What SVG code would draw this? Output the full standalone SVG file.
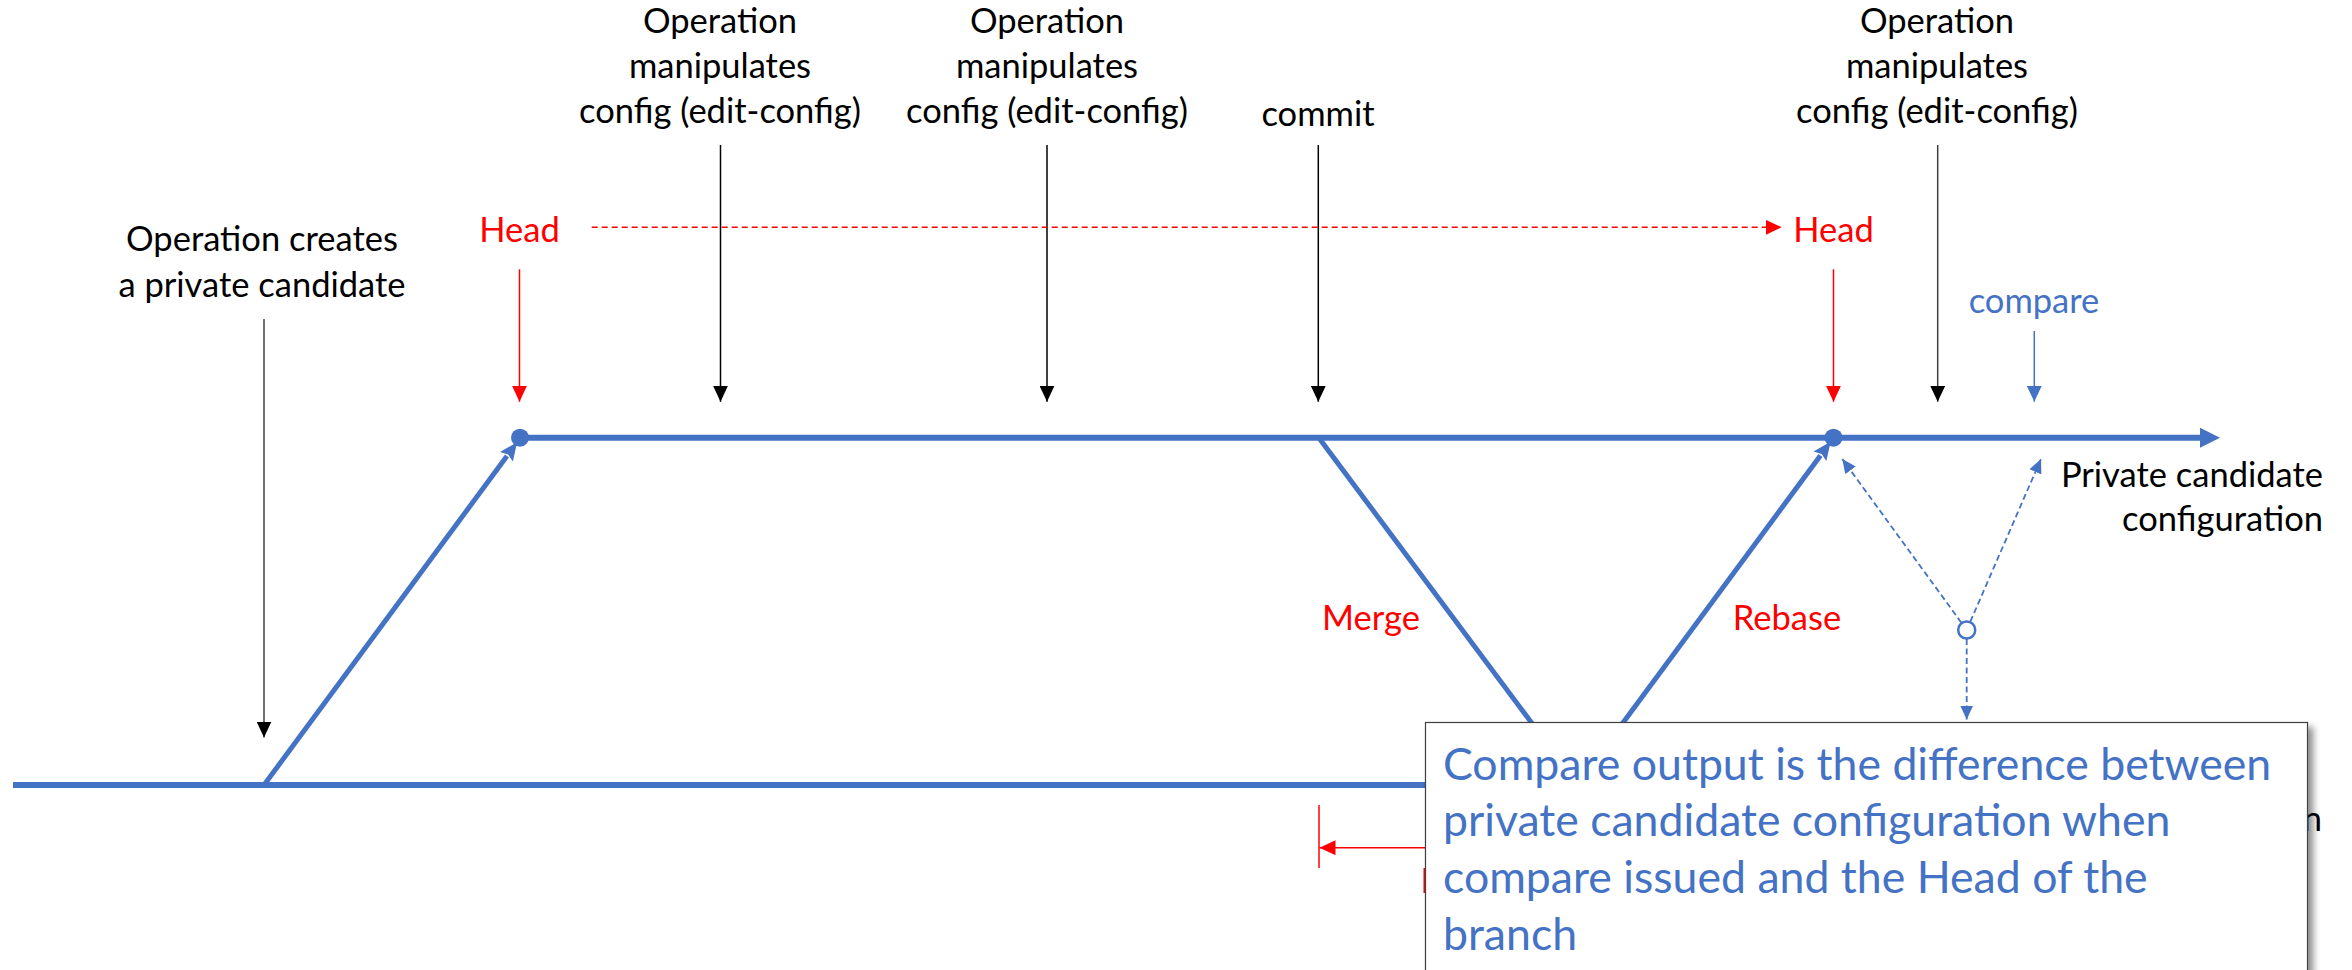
<svg xmlns="http://www.w3.org/2000/svg" width="2352" height="970" viewBox="0 0 2352 970">
  <style>
    text { font-family: Lato, "Liberation Sans", sans-serif; }
    .lbl { font-size: 34.5px; fill: #000; text-anchor: middle; }
    .end { text-anchor: end; }
    .red { fill: #FF0000; }
    .blue { fill: #4472C4; }
    .branch { stroke: #4472C4; stroke-width: 6; fill: none; }
    .diag { stroke: #4472C4; stroke-width: 5; fill: none; }
    .pointer { stroke: #000; stroke-width: 1.5; fill: none; }
    .pointer-grey { stroke: #404040; stroke-width: 1.5; fill: none; }
    .pointer-red { stroke: #FF0000; stroke-width: 1.5; fill: none; }
    .pointer-blue { stroke: #4472C4; stroke-width: 1.5; fill: none; }
    .dash-red { stroke: #FF0000; stroke-width: 1.5; stroke-dasharray: 6 4; fill: none; }
    .dash-blue { stroke: #4472C4; stroke-width: 1.8; stroke-dasharray: 6 3.5; fill: none; }
    .note { font-size: 44.6px; fill: #4472C4; }
  </style>
  <defs>
    <marker id="tipBlack" markerUnits="userSpaceOnUse" viewBox="0 0 16 15" refX="16" refY="7.5" markerWidth="16" markerHeight="15" orient="auto">
      <path d="M0,0 L16,7.5 L0,15 z" fill="#000"/>
    </marker>
    <marker id="tipRed" markerUnits="userSpaceOnUse" viewBox="0 0 16 15" refX="16" refY="7.5" markerWidth="16" markerHeight="15" orient="auto">
      <path d="M0,0 L16,7.5 L0,15 z" fill="#FF0000"/>
    </marker>
    <marker id="tipBlue" markerUnits="userSpaceOnUse" viewBox="0 0 16 15" refX="16" refY="7.5" markerWidth="16" markerHeight="15" orient="auto">
      <path d="M0,0 L16,7.5 L0,15 z" fill="#4472C4"/>
    </marker>
    <marker id="tipBlueSmall" markerUnits="userSpaceOnUse" viewBox="0 0 14 13" refX="14" refY="6.5" markerWidth="14" markerHeight="13" orient="auto">
      <path d="M0,0 L14,6.5 L0,13 z" fill="#4472C4"/>
    </marker>
    <marker id="tipBranch" markerUnits="userSpaceOnUse" viewBox="0 0 20 20" refX="1" refY="10" markerWidth="20" markerHeight="20" orient="auto">
      <path d="M0,0 L20,10 L0,20 z" fill="#4472C4"/>
    </marker>
    <marker id="tipDiag" markerUnits="userSpaceOnUse" viewBox="0 0 18 16" refX="1" refY="8" markerWidth="18" markerHeight="16" orient="auto">
      <path d="M0,0 L18,8 L0,16 L3,8 z" fill="#4472C4"/>
    </marker>
    <filter id="shadow" x="-5%" y="-5%" width="115%" height="120%">
      <feDropShadow dx="5" dy="5" stdDeviation="3.5" flood-color="#000" flood-opacity="0.45"/>
    </filter>
  </defs>

  <!-- branch lines, pointers and dashed relations -->
  <g id="connectors">
    <!-- shared (lower) branch -->
    <line class="branch" x1="13" y1="785" x2="1600" y2="785"/>
    <!-- private candidate branch -->
    <line class="branch" x1="520" y1="437.7" x2="2201" y2="437.7" marker-end="url(#tipBranch)"/>
    <!-- fork up to the private candidate -->
    <line class="diag" x1="264" y1="785" x2="507" y2="456" marker-end="url(#tipDiag)"/>
    <!-- merge down at commit -->
    <line class="diag" x1="1319" y1="438" x2="1578" y2="785"/>
    <!-- rebase up to the new head -->
    <line class="diag" x1="1577" y1="785" x2="1820.5" y2="455.5" marker-end="url(#tipDiag)"/>
    <circle cx="520" cy="437.7" r="9" fill="#4472C4"/>
    <circle cx="1833.5" cy="437.7" r="9" fill="#4472C4"/>

    <!-- event pointers -->
    <line class="pointer-grey" x1="264" y1="319" x2="264" y2="737.5" marker-end="url(#tipBlack)"/>
    <line class="pointer" x1="720.5" y1="145" x2="720.5" y2="401.7" marker-end="url(#tipBlack)"/>
    <line class="pointer" x1="1047" y1="145" x2="1047" y2="401.7" marker-end="url(#tipBlack)"/>
    <line class="pointer" x1="1318.3" y1="145" x2="1318.3" y2="401.7" marker-end="url(#tipBlack)"/>
    <line class="pointer-grey" x1="1937.7" y1="145" x2="1937.7" y2="401.7" marker-end="url(#tipBlack)"/>
    <line class="pointer-red" x1="519.5" y1="269.3" x2="519.5" y2="401.7" marker-end="url(#tipRed)"/>
    <line class="pointer-red" x1="1833.5" y1="269.3" x2="1833.5" y2="401.7" marker-end="url(#tipRed)"/>
    <line class="pointer-blue" x1="2034.3" y1="331" x2="2034.3" y2="401.7" marker-end="url(#tipBlue)"/>

    <!-- head moves forward -->
    <line class="dash-red" x1="591.7" y1="227.3" x2="1781.7" y2="227.3" marker-end="url(#tipRed)"/>

    <!-- compare relations -->
    <line class="dash-blue" x1="1961.4" y1="622.7" x2="1842.3" y2="459" marker-end="url(#tipBlueSmall)"/>
    <line class="dash-blue" x1="1970.3" y1="621.7" x2="2041" y2="459" marker-end="url(#tipBlueSmall)"/>
    <line class="dash-blue" x1="1966.7" y1="639" x2="1966.7" y2="719.5" marker-end="url(#tipBlueSmall)"/>
    <circle cx="1966.7" cy="630" r="8.5" fill="#fff" stroke="#4472C4" stroke-width="2.5"/>

    <!-- lower head marker -->
    <line class="pointer-red" x1="1319" y1="805" x2="1319" y2="868"/>
    <line class="pointer-red" x1="1430" y1="847.7" x2="1319.5" y2="847.7" marker-end="url(#tipRed)"/>
    <rect x="1423.5" y="868" width="2.5" height="25" fill="#FF0000"/>
  </g>

  <g id="label-create">
    <text class="lbl" x="262" y="251">Operation creates</text>
    <text class="lbl" x="262" y="296.5">a private candidate</text>
  </g>
  <g id="label-edit-1">
    <text class="lbl" x="720" y="33">Operation</text>
    <text class="lbl" x="720" y="78">manipulates</text>
    <text class="lbl" x="720" y="122.5">config (edit-config)</text>
  </g>
  <g id="label-edit-2">
    <text class="lbl" x="1047" y="33">Operation</text>
    <text class="lbl" x="1047" y="78">manipulates</text>
    <text class="lbl" x="1047" y="122.5">config (edit-config)</text>
  </g>
  <g id="label-commit">
    <text class="lbl" x="1318" y="126">commit</text>
  </g>
  <g id="label-edit-3">
    <text class="lbl" x="1937" y="33">Operation</text>
    <text class="lbl" x="1937" y="78">manipulates</text>
    <text class="lbl" x="1937" y="122.5">config (edit-config)</text>
  </g>
  <g id="label-head-1">
    <text class="lbl red" x="519.5" y="241.7">Head</text>
  </g>
  <g id="label-head-2">
    <text class="lbl red" x="1833.5" y="241.7">Head</text>
  </g>
  <g id="label-compare">
    <text class="lbl blue" x="2034" y="312.7">compare</text>
  </g>
  <g id="label-merge">
    <text class="lbl red" x="1371" y="629.5">Merge</text>
  </g>
  <g id="label-rebase">
    <text class="lbl red" x="1787" y="629.5">Rebase</text>
  </g>
  <g id="label-private">
    <text class="lbl end" x="2323" y="486.7">Private candidate</text>
    <text class="lbl end" x="2323" y="530.5">configuration</text>
  </g>
  <g id="label-shared">
    <text class="lbl end" x="2322" y="831">n</text>
  </g>

  <g id="note">
    <rect x="1425.5" y="722.5" width="882" height="300" fill="#fff" stroke="#404040" stroke-width="1.2" filter="url(#shadow)"/>
    <text class="note" x="1443" y="779.5">Compare output is the difference between</text>
    <text class="note" x="1443" y="836">private candidate configuration when</text>
    <text class="note" x="1443" y="892.7">compare issued and the Head of the</text>
    <text class="note" x="1443" y="949.5">branch</text>
  </g>
</svg>
